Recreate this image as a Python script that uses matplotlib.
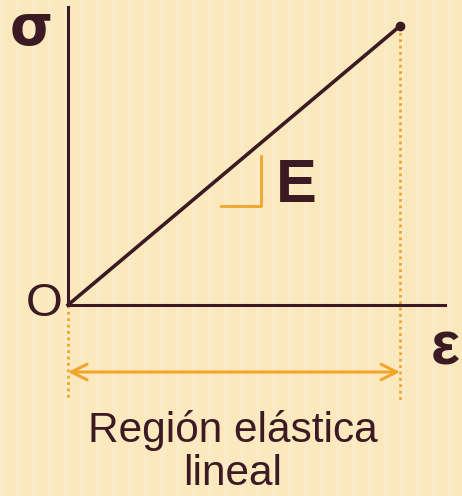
import matplotlib
matplotlib.use("Agg")
import matplotlib.pyplot as plt
import numpy as np

# Linear elastic region: stress proportional to strain
strain = [0.0, 1.0]
stress = [0.0, 1.0]
axis_labels = ["σ", "ε", "O"]
modulus_label = "E"
region_label = "Región elástica\nlineal"

W, H = 462, 496
ox, oy = 68, 305          # origin in pixels
sx, sy = 332, 279         # pixels per unit

DARK = "#3b1a24"
ORANGE = "#f3a52a"
BG = "#fbe8bd"

fig = plt.figure(figsize=(W / 100, H / 100), dpi=100)
fig.patch.set_facecolor(BG)
ax = fig.add_axes([0, 0, 1, 1])
ax.set_facecolor(BG)
ax.set_xlim(-ox / sx, (W - ox) / sx)
ax.set_ylim(-(H - oy) / sy, oy / sy)
ax.axis("off")

# faint vertical stripe texture
for xs in np.arange(-ox / sx, (W - ox) / sx, 16 / sx):
    ax.axvspan(xs, xs + 5 / sx, color="#fdf1d6", alpha=0.35, lw=0, zorder=0)

# axes
ax.plot([0, 0], [0, (oy - 7) / sy], color=DARK, lw=2.2, zorder=3)
ax.plot([0, (445 - ox) / sx], [0, 0], color=DARK, lw=2.2, zorder=3)

# stress-strain line
ax.plot(strain, stress, color=DARK, lw=2.6, zorder=4)
ax.plot(strain[-1], stress[-1], "o", color=DARK, ms=6, zorder=5)

# dotted guides
ax.plot([strain[-1]] * 2, [stress[-1], -(400 - oy) / sy], color=ORANGE,
        lw=2, ls=(0, (1, 1.3)), zorder=2)
ax.plot([0, 0], [0, -(400 - oy) / sy], color=ORANGE,
        lw=2, ls=(0, (1, 1.3)), zorder=2)

# double arrow
ay = -(372 - oy) / sy
ax.annotate("", xy=(0, ay), xytext=(strain[-1], ay),
            arrowprops=dict(arrowstyle="<->", color=ORANGE, lw=2.2,
                            mutation_scale=28, shrinkA=0, shrinkB=0))

# slope triangle
tx0, tx1 = (221 - ox) / sx, (261 - ox) / sx
ty0, ty1 = (oy - 206) / sy, (oy - 156) / sy
ax.plot([tx0, tx1, tx1], [ty0, ty0, ty1], color=ORANGE, lw=2, zorder=3)

# labels
ax.text((31 - ox) / sx, (oy - 30) / sy, axis_labels[0], fontsize=40,
        fontweight="bold", color=DARK, ha="center", va="center",
        family="DejaVu Sans")
ax.text((445 - ox) / sx, (oy - 349) / sy, axis_labels[1], fontsize=44,
        fontweight="bold", color=DARK, ha="center", va="center",
        family="Liberation Sans")
ax.text((44 - ox) / sx, -(304 - oy) / sy, axis_labels[2], fontsize=34, color=DARK,
        ha="center", va="center", family="Liberation Sans")
ax.text((296 - ox) / sx, (oy - 187) / sy, modulus_label, fontsize=44,
        fontweight="bold", color=DARK, ha="center", va="center",
        family="Liberation Sans")
ax.text((233 - ox) / sx, (oy - 452) / sy, region_label, fontsize=30.5,
        color=DARK, ha="center", va="center", linespacing=1.1,
        family="Liberation Sans")

fig.savefig("out.png", dpi=100, facecolor=BG)
